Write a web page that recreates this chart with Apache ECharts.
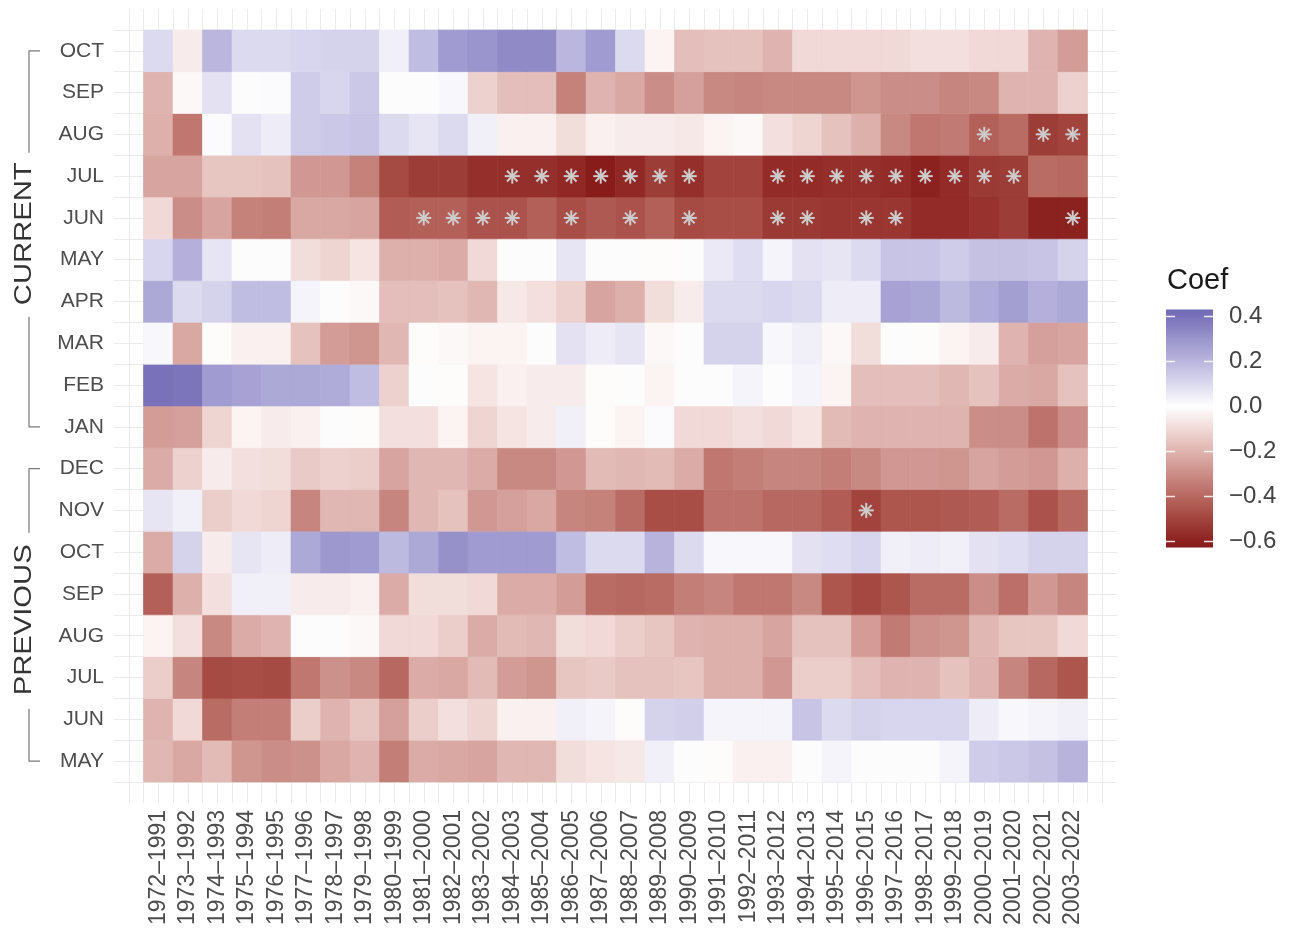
<!DOCTYPE html>
<html>
<head>
<meta charset="utf-8">
<script src="https://cdn.jsdelivr.net/npm/echarts@6/dist/echarts.min.js"></script>
<style>
html,body{margin:0;padding:0;background:#ffffff;}
#chart{width:1293px;height:928px;}
</style>
</head>
<body>
<div id="chart"></div>
<script>
// ---------- DATA ----------
const periods = ['1972–1991','1973–1992','1974–1993','1975–1994','1976–1995','1977–1996','1978–1997','1979–1998','1980–1999','1981–2000','1982–2001','1983–2002','1984–2003','1985–2004','1986–2005','1987–2006','1988–2007','1989–2008','1990–2009','1991–2010','1992–2011','1993–2012','1994–2013','1995–2014','1996–2015','1997–2016','1998–2017','1999–2018','2000–2019','2001–2020','2002–2021','2003–2022'];

// bottom (previous MAY) to top (current OCT)
const monthLabels = ['MAY','JUN','JUL','AUG','SEP','OCT','NOV','DEC','JAN','FEB','MAR','APR','MAY','JUN','JUL','AUG','SEP','OCT'];

const prevMAY = [-0.19,-0.23,-0.18,-0.28,-0.30,-0.29,-0.23,-0.20,-0.34,-0.22,-0.23,-0.24,-0.19,-0.19,-0.09,-0.07,-0.06,0.04,0.00,-0.01,-0.04,-0.04,0.00,0.03,0.00,0.00,0.00,0.03,0.14,0.15,0.17,0.21];
const prevJUN = [-0.20,-0.10,-0.39,-0.34,-0.34,-0.13,-0.20,-0.15,-0.25,-0.13,-0.08,-0.11,-0.04,-0.04,0.04,0.03,-0.01,0.12,0.13,0.03,0.03,0.03,0.16,0.10,0.12,0.11,0.11,0.11,0.05,0.02,0.03,0.04];
const prevJUL = [-0.13,-0.32,-0.48,-0.47,-0.48,-0.36,-0.29,-0.31,-0.40,-0.22,-0.23,-0.18,-0.26,-0.28,-0.15,-0.14,-0.16,-0.16,-0.15,-0.21,-0.21,-0.27,-0.13,-0.13,-0.17,-0.20,-0.20,-0.16,-0.20,-0.32,-0.40,-0.45];
const prevAUG = [-0.03,-0.08,-0.31,-0.22,-0.20,0.00,0.00,-0.02,-0.10,-0.10,-0.13,-0.22,-0.18,-0.19,-0.09,-0.10,-0.13,-0.15,-0.20,-0.21,-0.21,-0.24,-0.16,-0.16,-0.26,-0.35,-0.29,-0.28,-0.19,-0.15,-0.15,-0.10];
const prevSEP = [-0.42,-0.21,-0.08,0.04,0.04,-0.05,-0.05,-0.04,-0.22,-0.09,-0.09,-0.10,-0.22,-0.22,-0.26,-0.39,-0.40,-0.39,-0.34,-0.32,-0.36,-0.36,-0.31,-0.45,-0.49,-0.45,-0.39,-0.39,-0.30,-0.38,-0.27,-0.32];
const prevOCT = [-0.22,0.12,-0.05,0.07,0.05,0.24,0.29,0.28,0.19,0.24,0.31,0.28,0.28,0.28,0.18,0.10,0.10,0.21,0.10,0.02,0.02,0.02,0.08,0.09,0.11,0.04,0.05,0.04,0.08,0.09,0.12,0.12];
const prevNOV = [0.07,0.04,-0.13,-0.10,-0.11,-0.32,-0.19,-0.19,-0.32,-0.19,-0.16,-0.27,-0.25,-0.23,-0.32,-0.33,-0.39,-0.47,-0.47,-0.37,-0.37,-0.40,-0.40,-0.43,-0.50,-0.45,-0.45,-0.44,-0.43,-0.39,-0.46,-0.40];
const prevDEC = [-0.22,-0.12,-0.05,-0.08,-0.09,-0.14,-0.12,-0.13,-0.24,-0.19,-0.19,-0.22,-0.31,-0.31,-0.27,-0.18,-0.19,-0.18,-0.22,-0.36,-0.34,-0.32,-0.32,-0.34,-0.31,-0.27,-0.27,-0.28,-0.24,-0.26,-0.27,-0.21];
const curJAN = [-0.26,-0.25,-0.11,-0.03,-0.05,-0.04,0.00,-0.01,-0.08,-0.08,-0.03,-0.11,-0.07,-0.05,0.04,-0.01,-0.03,0.01,-0.10,-0.10,-0.08,-0.10,-0.07,-0.18,-0.20,-0.20,-0.20,-0.20,-0.30,-0.30,-0.37,-0.30];
const curFEB = [0.40,0.39,0.28,0.26,0.24,0.24,0.23,0.18,-0.12,0.00,-0.01,-0.07,-0.04,-0.05,-0.05,-0.01,0.00,-0.03,0.00,0.00,0.03,0.00,0.03,-0.03,-0.17,-0.17,-0.17,-0.19,-0.16,-0.22,-0.23,-0.16];
const curMAR = [0.02,-0.23,-0.01,-0.04,-0.04,-0.16,-0.26,-0.28,-0.19,-0.01,-0.02,-0.03,-0.03,0.00,0.08,0.05,0.07,-0.02,0.00,0.12,0.12,0.02,0.04,-0.02,-0.09,0.00,-0.01,-0.03,-0.05,-0.20,-0.25,-0.24];
const curAPR = [0.24,0.10,0.12,0.18,0.18,0.03,0.00,-0.02,-0.17,-0.17,-0.16,-0.19,-0.06,-0.08,-0.12,-0.24,-0.21,-0.09,-0.05,0.10,0.10,0.11,0.10,0.05,0.05,0.26,0.25,0.19,0.23,0.27,0.22,0.24];
const curMAY = [0.11,0.22,0.07,0.00,0.00,-0.09,-0.11,-0.07,-0.21,-0.21,-0.22,-0.10,0.00,0.00,0.07,0.00,0.00,-0.01,0.00,0.06,0.09,0.03,0.08,0.07,0.10,0.16,0.16,0.14,0.17,0.17,0.16,0.12];
const curJUN = [-0.10,-0.30,-0.24,-0.33,-0.34,-0.23,-0.23,-0.24,-0.43,-0.42,-0.42,-0.46,-0.46,-0.42,-0.47,-0.44,-0.46,-0.42,-0.48,-0.47,-0.47,-0.53,-0.53,-0.54,-0.54,-0.54,-0.57,-0.57,-0.55,-0.52,-0.60,-0.60];
const curJUL = [-0.24,-0.24,-0.15,-0.15,-0.16,-0.27,-0.27,-0.33,-0.48,-0.52,-0.52,-0.56,-0.56,-0.56,-0.58,-0.62,-0.58,-0.52,-0.56,-0.50,-0.50,-0.57,-0.57,-0.56,-0.56,-0.57,-0.60,-0.57,-0.53,-0.52,-0.39,-0.40];
const curAUG = [-0.21,-0.36,0.01,0.08,0.05,0.14,0.15,0.16,0.10,0.07,0.10,0.04,-0.04,-0.04,-0.09,-0.04,-0.05,-0.05,-0.06,-0.03,-0.02,-0.08,-0.11,-0.16,-0.21,-0.31,-0.36,-0.35,-0.42,-0.39,-0.52,-0.50];
const curSEP = [-0.20,-0.02,0.08,0.00,0.01,0.14,0.11,0.15,0.00,0.00,0.02,-0.12,-0.17,-0.17,-0.33,-0.20,-0.23,-0.30,-0.25,-0.31,-0.32,-0.31,-0.31,-0.31,-0.28,-0.30,-0.30,-0.32,-0.31,-0.20,-0.20,-0.12];
const curOCT = [0.10,-0.05,0.20,0.10,0.10,0.11,0.12,0.12,0.04,0.18,0.28,0.30,0.33,0.33,0.20,0.28,0.10,-0.03,-0.17,-0.16,-0.16,-0.20,-0.10,-0.10,-0.10,-0.10,-0.08,-0.08,-0.10,-0.10,-0.20,-0.26];

// significant cells (asterisks), by period
const sigCurAUG = ['2000–2019','2002–2021','2003–2022'];
const sigCurJUL = ['1984–2003','1985–2004','1986–2005','1987–2006','1988–2007','1989–2008','1990–2009','1993–2012','1994–2013','1995–2014','1996–2015','1997–2016','1998–2017','1999–2018','2000–2019','2001–2020'];
const sigCurJUN = ['1981–2000','1982–2001','1983–2002','1984–2003','1986–2005','1988–2007','1990–2009','1993–2012','1994–2013','1996–2015','1997–2016','2003–2022'];
const sigPrevNOV = ['1996–2015'];

const legendTicks = [0.4, 0.2, 0.0, -0.2, -0.4, -0.6];
const legendTickLabels = ['0.4','0.2','0.0','−0.2','−0.4','−0.6'];

// ---------- BUILD ----------
const rows = [prevMAY, prevJUN, prevJUL, prevAUG, prevSEP, prevOCT, prevNOV, prevDEC,
              curJAN, curFEB, curMAR, curAPR, curMAY, curJUN, curJUL, curAUG, curSEP, curOCT];
const tileData = [];
rows.forEach((arr, i) => arr.forEach((v, j) => tileData.push([j + 1, i + 1, v])));

const sigData = [];
function addSig(list, rowArr) {
  const r = rows.indexOf(rowArr) + 1;
  list.forEach(p => sigData.push([periods.indexOf(p) + 1, r]));
}
addSig(sigCurAUG, curAUG);
addSig(sigCurJUL, curJUL);
addSig(sigCurJUN, curJUN);
addSig(sigPrevNOV, prevNOV);

const VMIN = -0.627, VMAX = 0.431;
const colorAnchors = [
  [-0.627,'#861A1A'],[-0.6,'#8C211F'],[-0.5,'#A2443D'],[-0.4,'#B76860'],[-0.3,'#CB8D87'],
  [-0.2,'#DFB3AE'],[-0.1,'#F0D9D6'],[0,'#FFFFFF'],[0.1,'#DCDAEF'],[0.2,'#BAB6DE'],
  [0.3,'#9A95CC'],[0.4,'#7972BA'],[0.431,'#7069B4']
];
function hex2rgb(h){return [parseInt(h.slice(1,3),16),parseInt(h.slice(3,5),16),parseInt(h.slice(5,7),16)];}
function colorAt(v){
  if (v <= colorAnchors[0][0]) return colorAnchors[0][1];
  for (let i = 1; i < colorAnchors.length; i++) {
    if (v <= colorAnchors[i][0]) {
      const [v0,c0] = colorAnchors[i-1], [v1,c1] = colorAnchors[i];
      const t = (v - v0) / (v1 - v0);
      const a = hex2rgb(c0), b = hex2rgb(c1);
      const m = a.map((x,k)=>Math.round(x + (b[k]-x)*t));
      return 'rgb(' + m.join(',') + ')';
    }
  }
  return colorAnchors[colorAnchors.length-1][1];
}
const NSTOP = 60;
const vmColors = [];
for (let i = 0; i <= NSTOP; i++) vmColors.push(colorAt(VMIN + (VMAX - VMIN) * i / NSTOP));

const FONT = '"Liberation Sans", Arial, Helvetica, sans-serif';

function tileRender(params, api) {
  const x = api.value(0), y = api.value(1);
  const p0 = api.coord([x - 0.5, y + 0.5]);
  const p1 = api.coord([x + 0.5, y - 0.5]);
  const c = api.visual('color');
  return {
    type: 'rect',
    shape: {x: p0[0], y: p0[1], width: p1[0] - p0[0], height: p1[1] - p0[1]},
    style: {fill: c, stroke: c, lineWidth: 0.6}
  };
}
function starRender(params, api) {
  const c = api.coord([api.value(0), api.value(1)]);
  const r = 7.5, children = [];
  for (let k = 0; k < 4; k++) {
    const a = k * Math.PI / 4, dx = r * Math.cos(a), dy = r * Math.sin(a);
    children.push({type: 'line', shape: {x1: c[0]-dx, y1: c[1]-dy, x2: c[0]+dx, y2: c[1]+dy},
      style: {stroke: '#CDCDCD', lineWidth: 2}});
  }
  return {type: 'group', children};
}

const chart = echarts.init(document.getElementById('chart'));
chart.setOption({
  animation: false,
  backgroundColor: '#ffffff',
  grid: {left: 114, right: 176, top: 9, bottom: 125},
  xAxis: {
    type: 'value', min: -0.5, max: 33.5, interval: 0.5,
    axisLine: {show: false}, axisTick: {show: false},
    splitLine: {show: true, showMinLine: false, showMaxLine: false, lineStyle: {color: '#EBEBEB', width: 1}},
    axisLabel: {
      rotate: 90, fontSize: 23, color: '#4D4D4D', fontFamily: FONT, margin: 7,
      showMinLabel: true, showMaxLabel: true,
      formatter: v => { const k = Math.round(v * 2) / 2; return (Number.isInteger(k) && k >= 1 && k <= periods.length) ? periods[k-1] : ''; }
    }
  },
  yAxis: {
    type: 'value', min: 0, max: 19, interval: 0.5,
    axisLine: {show: false}, axisTick: {show: false},
    splitLine: {show: true, showMinLine: false, showMaxLine: false, lineStyle: {color: '#EBEBEB', width: 1}},
    axisLabel: {
      fontSize: 21, color: '#4D4D4D', fontFamily: FONT, margin: 10,
      formatter: v => { const k = Math.round(v * 2) / 2; return (Number.isInteger(k) && k >= 1 && k <= monthLabels.length) ? monthLabels[k-1] : ''; }
    }
  },
  visualMap: {show: false, type: 'continuous', min: VMIN, max: VMAX, dimension: 2, seriesIndex: 0,
    inRange: {color: vmColors}},
  series: [
    {type: 'custom', renderItem: tileRender, data: tileData, encode: {x: 0, y: 1}, z: 1, silent: true},
    {type: 'custom', renderItem: starRender, data: sigData, encode: {x: 0, y: 1}, z: 2, silent: true}
  ]
});

// ---------- GRAPHICS: group brackets & legend ----------
const yPx = r => chart.convertToPixel({gridIndex: 0}, [0, r])[1];
const graphics = [];
function bracket(topRow, botRow, label, shift, halfLen) {
  const yT = yPx(topRow), yB = yPx(botRow);
  const cy = (yT + yB) / 2 + shift;
  const X = 29, TX = 40;
  const ls = {stroke: '#7A7A7A', lineWidth: 1.2, fill: null};
  graphics.push({type: 'polyline', silent: true, shape: {points: [[TX, yT], [X, yT], [X, cy - halfLen - 10]]}, style: ls});
  graphics.push({type: 'polyline', silent: true, shape: {points: [[X, cy + halfLen + 12], [X, yB], [TX, yB]]}, style: ls});
  graphics.push({type: 'text', silent: true, x: 25, y: cy, rotation: Math.PI / 2, scaleX: 1.27,
    style: {text: label, fontSize: 23, fontFamily: FONT, fill: '#333333', align: 'center', verticalAlign: 'middle'}});
}
bracket(18, 9, 'CURRENT', -5, 71);
bracket(8, 1, 'PREVIOUS', 5, 77);

// legend
const LX = 1166, LW = 47;
const legY = v => 316.5 + (0.4 - v) * 225;
graphics.push({type: 'text', silent: true, x: 1167, y: 281,
  style: {text: 'Coef', fontSize: 29, fontFamily: FONT, fill: '#1A1A1A', align: 'left', verticalAlign: 'middle'}});
graphics.push({type: 'rect', silent: true, shape: {x: LX, y: legY(VMAX), width: LW, height: legY(VMIN) - legY(VMAX)},
  style: {fill: new echarts.graphic.LinearGradient(0, 0, 0, 1,
    colorAnchors.slice().reverse().map(a => ({offset: (VMAX - a[0]) / (VMAX - VMIN), color: a[1]})))}});
legendTicks.forEach((t, i) => {
  const y = legY(t);
  graphics.push({type: 'line', silent: true, shape: {x1: LX, y1: y, x2: LX + 9, y2: y}, style: {stroke: 'rgba(255,255,255,0.85)', lineWidth: 1.5}});
  graphics.push({type: 'line', silent: true, shape: {x1: LX + LW - 9, y1: y, x2: LX + LW, y2: y}, style: {stroke: 'rgba(255,255,255,0.85)', lineWidth: 1.5}});
  graphics.push({type: 'text', silent: true, x: 1229, y: y,
    style: {text: legendTickLabels[i], fontSize: 24, fontFamily: FONT, fill: '#444444', align: 'left', verticalAlign: 'middle'}});
});
chart.setOption({graphic: graphics});
</script>
</body>
</html>
